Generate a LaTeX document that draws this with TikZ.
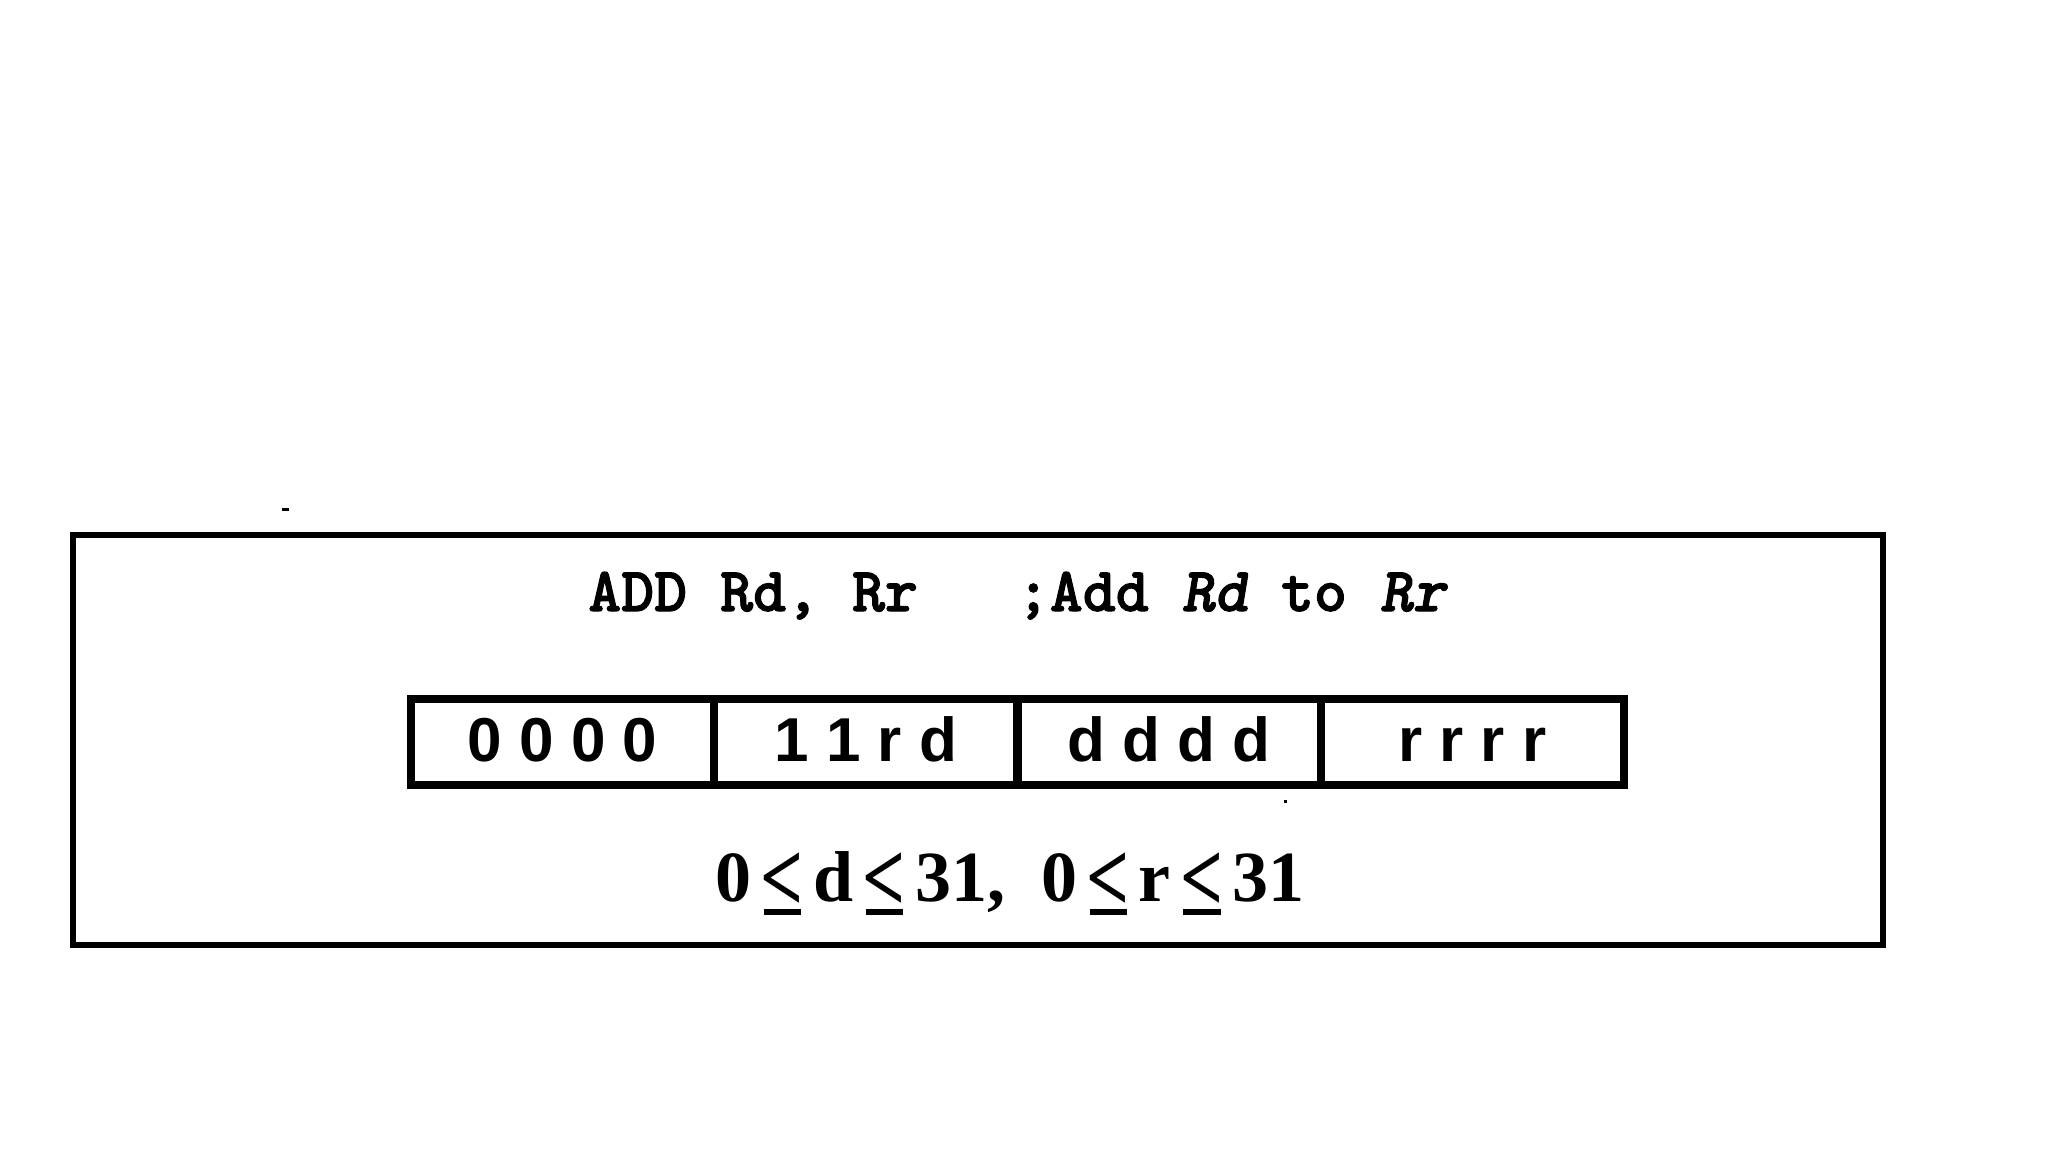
\documentclass[tikz,border=0pt]{standalone}
\usepackage{fontspec}
\setmainfont{Liberation Serif}
\newfontfamily\monof{lmmonolt10-bold.otf}[FakeBold=1.6,ItalicFont=lmmonolt10-boldoblique.otf,ItalicFeatures={FakeBold=1.6}]
\newfontfamily\sansf{Liberation Sans}
\newcommand\gp{\hspace{0.13em}}
\newcommand\ulle{\raisebox{-0.14em}{\scalebox{1.05}[1.4]{<}}\llap{\rule[-0.2em]{0.52em}{0.085em}\hspace{0.035em}}}
\tikzset{
  framebox/.style={draw, line width=3pt, inner sep=0pt, minimum width=905pt, minimum height=205pt},
  bitcell/.style={draw, line width=4pt, inner sep=0pt, minimum width=151.625pt, minimum height=43pt,
     text height=22pt, text depth=3pt, font=\sansf\bfseries\fontsize{31}{31}\selectfont},
  titletext/.style={inner sep=0pt, font=\monof\fontsize{31.4}{31.4}\selectfont},
  rangetext/.style={inner sep=0pt, font=\rmfamily\bfseries\fontsize{36}{36}\selectfont},
}
\begin{document}
\begin{tikzpicture}[x=0.5pt,y=-0.5pt]
\useasboundingbox[fill=white] (0,0) rectangle (2048,1152);
\node[framebox] (frame) at (978,740) {};
\node[titletext, anchor=base] (title) at (1018,611) {ADD Rd, Rr\ \ \ ;Add \textit{Rd} to \textit{Rr}};
\node[bitcell] (c1) at (562.6,742) {0 0 0 0};
\node[bitcell] (c2) at (865.9,742) {1 1 r d};
\node[bitcell] (c3) at (1169.1,742) {d d d d};
\node[bitcell] (c4) at (1472.4,742) {r r r r};
\node[rangetext, anchor=base] (range) at (1010,901) {0\gp\ulle\gp d\gp\ulle\gp 31,\hspace{0.5em}0\gp\ulle\gp r\gp\ulle\gp 31};
\fill (282,508) rectangle (289,511);
\fill (1284,800) rectangle (1287,803);
\end{tikzpicture}
\end{document}
